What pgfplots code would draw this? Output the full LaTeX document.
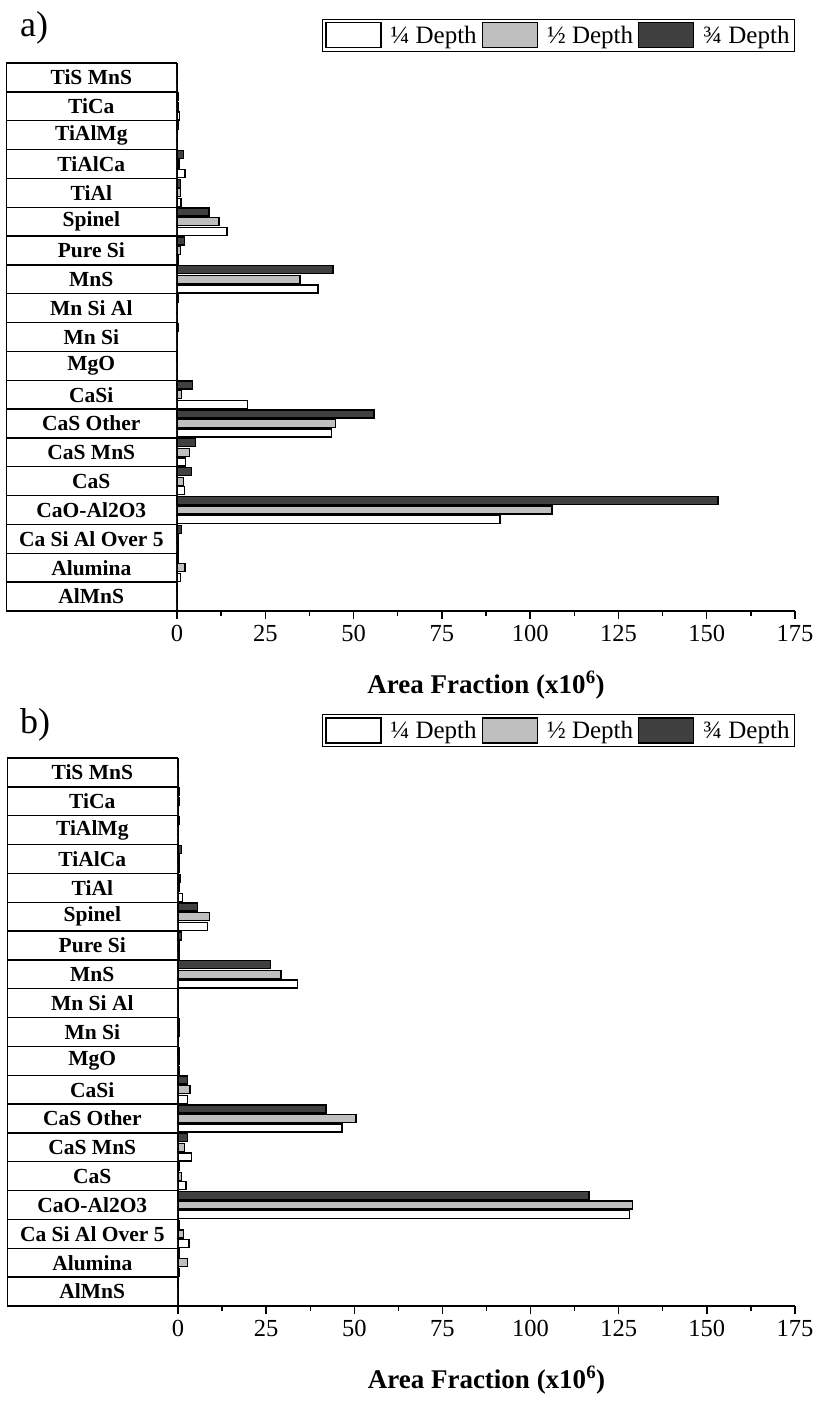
\documentclass[border=0pt]{standalone}
\usepackage{pgfplots}
\pgfplotsset{compat=1.18}
\usepackage{fontspec}
\setmainfont{Liberation Serif}

\definecolor{qone}{HTML}{FFFFFF}
\definecolor{qtwo}{HTML}{BFBFBF}
\definecolor{qthree}{HTML}{404040}

% columns: idx, 1/4 depth, 1/2 depth, 3/4 depth  (idx 0 = AlMnS ... 18 = TiS MnS)
\pgfplotstableread{
idx q1 q2 q3
0 0.2 0.2 0.2
1 0.9 2.3 0.3
2 0.5 0.5 1.3
3 91.5 106.2 153.2
4 2.1 1.9 4.2
5 2.4 3.5 5.3
6 43.8 44.8 55.8
7 19.9 1.3 4.3
8 0.2 0.2 0.2
9 0.2 0.2 0.5
10 0.2 0.2 0.3
11 39.9 34.8 44.2
12 0.5 0.9 2.1
13 14.2 11.9 9.1
14 1.1 1.0 0.9
15 2.3 0.6 1.8
16 0.2 0.2 0.5
17 0.8 0.5 0.3
18 0.1 0.1 0.1
}\dataA

\pgfplotstableread{
idx q1 q2 q3
0 0.1 0.1 0.1
1 0.5 2.6 0.3
2 3.1 1.5 0.3
3 128.0 129.0 116.6
4 2.3 1.0 0.5
5 3.8 1.8 2.7
6 46.5 50.5 42.0
7 2.6 3.4 2.7
8 0.5 0.3 0.3
9 0.2 0.3 0.3
10 0.1 0.1 0.1
11 33.8 29.2 26.3
12 0.3 0.5 1.0
13 8.3 8.9 5.6
14 1.2 0.5 0.6
15 0.5 0.5 1.0
16 0.2 0.2 0.3
17 0.2 0.3 0.3
18 0.1 0.1 0.1
}\dataB

\pgfplotsset{
  boxlegend/.style={legend image code/.code={\draw[##1] (0pt,-12.5pt) rectangle (55pt,12.5pt);}},
  barstyle/.style={xbar, bar width=8pt, draw=black, line width=1.3pt, boxlegend},
  panel/.style={
    scale only axis,
    width=618pt, height=548pt,
    xmin=0, xmax=175, ymin=-0.5, ymax=18.5,
    axis x line=bottom, axis y line=left,
    axis line style={-, line width=1.5pt},
    tick align=outside,
    major tick length=8pt, minor tick length=5pt,
    xtick={0,25,...,175}, minor x tick num=1,
    every tick/.style={black, line width=1.3pt},
    ytick={0,...,18},
    ytick style={draw=none},
    yticklabels={AlMnS, Alumina, Ca Si Al Over 5, CaO-Al2O3, CaS, CaS MnS, CaS Other, CaSi, MgO, Mn Si, Mn Si Al, MnS, Pure Si, Spinel, TiAl, TiAlCa, TiAlMg, TiCa, TiS MnS},
    yticklabel style={draw=black, line width=1.4pt, minimum width=170pt, minimum height=28.84pt,
      inner sep=0pt, anchor=east, xshift=8pt, font=\bfseries\fontsize{21.5}{23}\selectfont},
    /pgf/number format/assume math mode=true,
    xticklabel style={font=\fontsize{24.5}{26}\selectfont, yshift=-3pt},
    xlabel={\textbf{Area Fraction (x10\textsuperscript{6})}},
    xlabel style={font=\fontsize{27}{30}\selectfont, at={(axis description cs:0.5,0)}, anchor=base, yshift=-82pt},
    legend columns=3,
    legend style={at={(1,1)}, anchor=south east, yshift=11pt, draw=black, line width=1pt,
      font=\fontsize{25}{27}\selectfont, inner sep=3pt,
      /tikz/every odd column/.append style={column sep=7pt},
      /tikz/every even column/.append style={column sep=3pt}},
    legend cell align=left,
  },
}

\begin{document}
\begin{tikzpicture}
\begin{axis}[panel, at={(0pt,0pt)}, anchor=south west]
\addplot[barstyle, fill=qone, bar shift=-9.6pt] table[x=q1, y=idx] {\dataA};
\addplot[barstyle, fill=qtwo, bar shift=0pt] table[x=q2, y=idx] {\dataA};
\addplot[barstyle, fill=qthree, bar shift=9.6pt] table[x=q3, y=idx] {\dataA};
\legend{¼ Depth, ½ Depth, ¾ Depth}
\end{axis}

\begin{axis}[panel, width=617pt, at={(1pt,-695pt)}, anchor=south west]
\addplot[barstyle, fill=qone, bar shift=-9.6pt] table[x=q1, y=idx] {\dataB};
\addplot[barstyle, fill=qtwo, bar shift=0pt] table[x=q2, y=idx] {\dataB};
\addplot[barstyle, fill=qthree, bar shift=9.6pt] table[x=q3, y=idx] {\dataB};
\legend{¼ Depth, ½ Depth, ¾ Depth}
\end{axis}

\node[anchor=base west, inner sep=0pt, font=\fontsize{36}{40}\selectfont] at (-157pt,574pt) {a)};
\node[anchor=base west, inner sep=0pt, font=\fontsize{36}{40}\selectfont] at (-157pt,-123pt) {b)};
\path (-177pt,-809pt) rectangle (638pt,611pt);
\end{tikzpicture}
\end{document}
